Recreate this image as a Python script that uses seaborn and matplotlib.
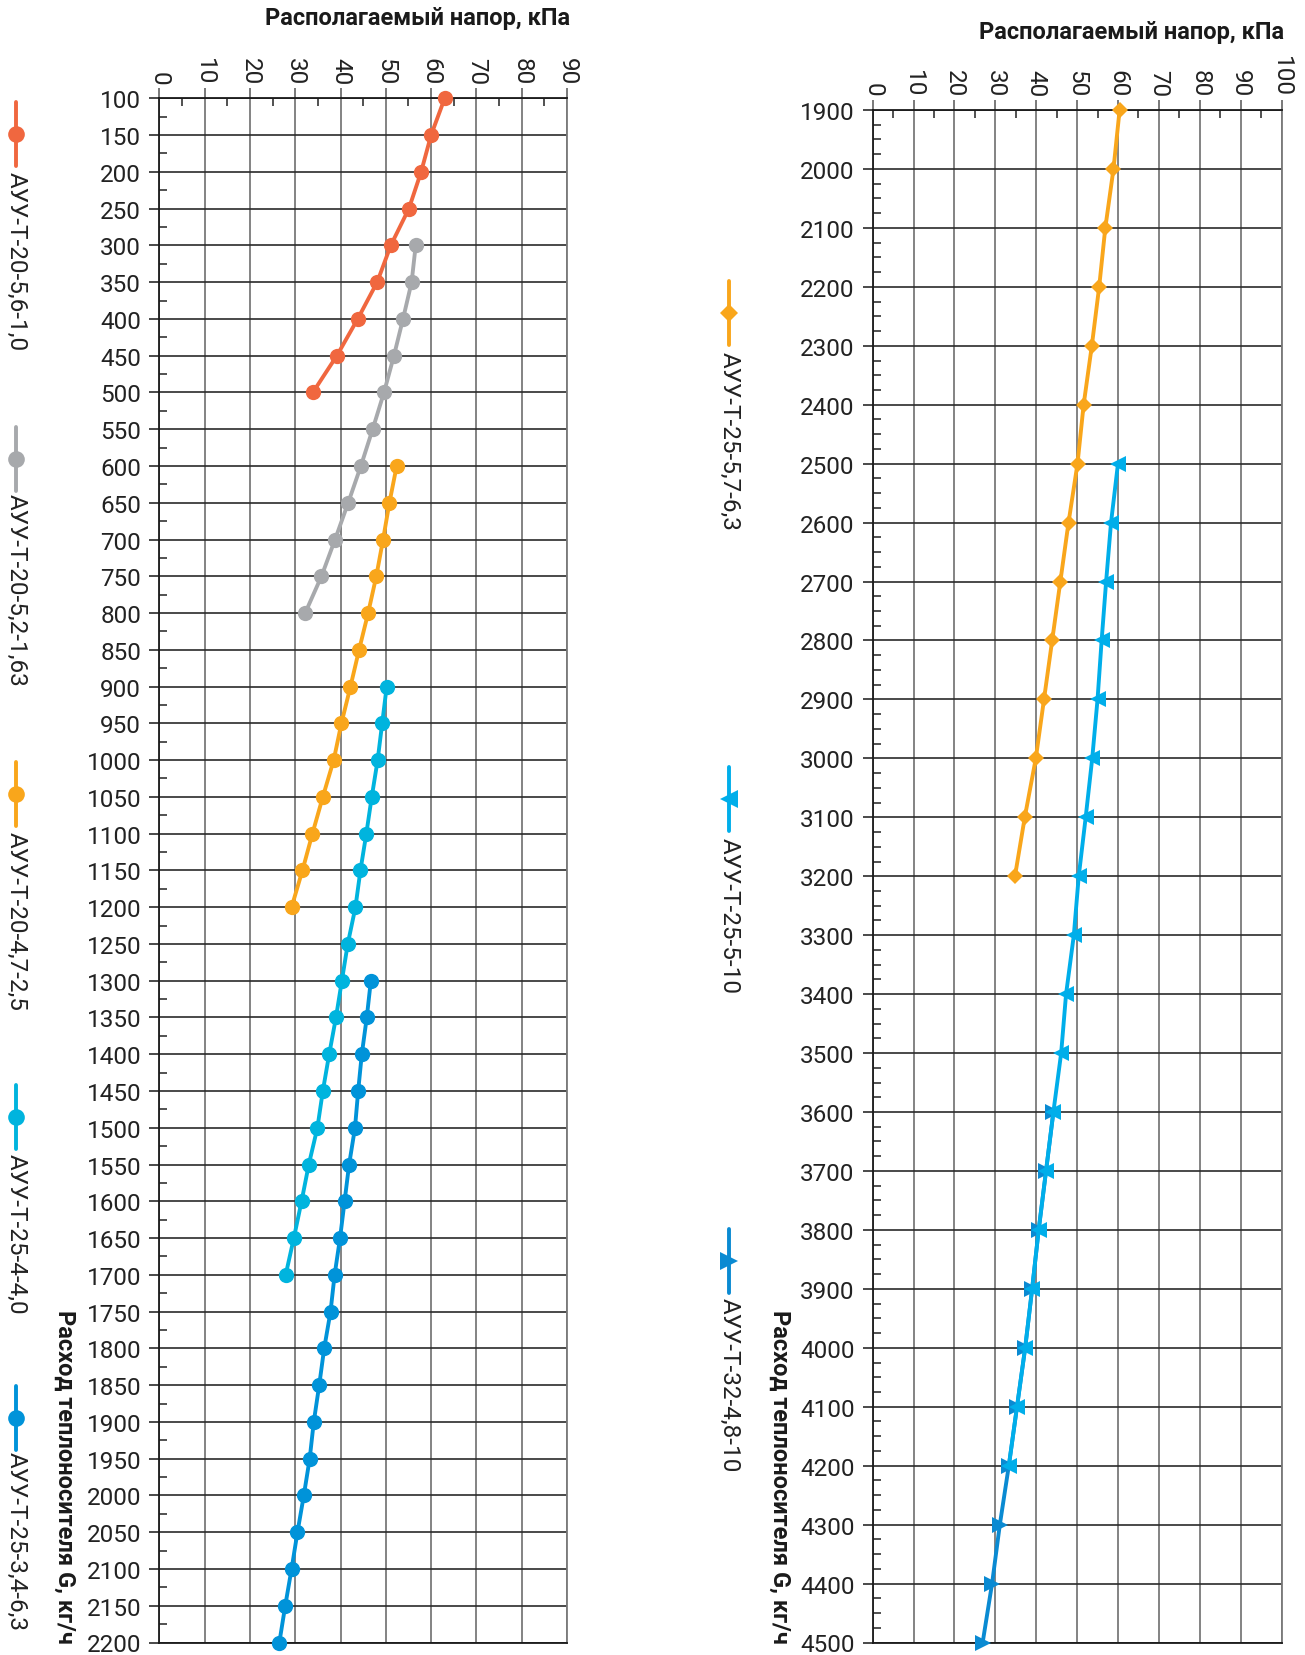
import numpy as np
import pandas as pd
import matplotlib
matplotlib.use("Agg")
import matplotlib.pyplot as plt
from matplotlib.lines import Line2D
from matplotlib.ticker import MultipleLocator
import seaborn as sns

# ---------------- data ----------------
# left chart
flow_a = [100, 150, 200, 250, 300, 350, 400, 450, 500]
head_a = [63.0, 60.0, 57.8, 55.1, 51.1, 48.1, 43.8, 39.2, 33.9]

flow_b = [300, 350, 400, 450, 500, 550, 600, 650, 700, 750, 800]
head_b = [56.6, 55.7, 53.8, 51.8, 49.6, 47.1, 44.5, 41.7, 38.8, 35.8, 32.2]

flow_c = [600, 650, 700, 750, 800, 850, 900, 950, 1000, 1050, 1100, 1150, 1200]
head_c = [52.4, 50.8, 49.4, 47.9, 46.1, 44.1, 42.2, 40.2, 38.5, 36.1, 33.8, 31.6, 29.2]

flow_d = [900, 950, 1000, 1050, 1100, 1150, 1200, 1250, 1300, 1350, 1400, 1450,
          1500, 1550, 1600, 1650, 1700]
head_d = [50.2, 49.2, 48.2, 46.9, 45.7, 44.4, 43.3, 41.6, 40.3, 39.0, 37.5, 36.1,
          34.9, 33.0, 31.4, 29.7, 27.9]

flow_e = [1300, 1350, 1400, 1450, 1500, 1550, 1600, 1650, 1700, 1750, 1800, 1850,
          1900, 1950, 2000, 2050, 2100, 2150, 2200]
head_e = [46.7, 45.8, 44.7, 43.9, 43.2, 41.9, 40.9, 39.9, 38.7, 37.8, 36.4, 35.3,
          34.1, 33.2, 31.9, 30.5, 29.2, 27.8, 26.5]

# right chart
flow_f = [1900, 2000, 2100, 2200, 2300, 2400, 2500, 2600, 2700, 2800, 2900, 3000, 3100, 3200]
head_f = [60.4, 58.9, 56.9, 55.4, 53.6, 51.6, 50.1, 47.9, 45.9, 43.9, 41.9, 39.9, 37.2, 34.8]

flow_g = [2500, 2600, 2700, 2800, 2900, 3000, 3100, 3200, 3300, 3400, 3500, 3600,
          3700, 3800, 3900, 4000, 4100, 4200]
head_g = [60.0, 58.3, 57.1, 56.0, 55.0, 53.7, 52.1, 50.4, 49.2, 47.3, 46.1, 44.2,
          42.4, 40.6, 39.0, 37.3, 35.3, 33.3]

flow_h = [3600, 3700, 3800, 3900, 4000, 4100, 4200, 4300, 4400, 4500]
head_h = [44.2, 42.4, 40.6, 39.0, 37.3, 35.3, 33.3, 31.1, 29.2, 26.9]

labels_left = ["АУУ-Т-20-5,6-1,0", "АУУ-Т-20-5,2-1,63", "АУУ-Т-20-4,7-2,5",
               "АУУ-Т-25-4-4,0", "АУУ-Т-25-3,4-6,3"]
labels_right = ["АУУ-Т-25-5,7-6,3", "АУУ-Т-25-5-10", "АУУ-Т-32-4,8-10"]

x_title = "Располагаемый напор, кПа"
y_title = "Расход теплоносителя G, кг/ч"

# ---------------- style ----------------
sns.set_style("white")
plt.rcParams["font.family"] = ["Roboto", "DejaVu Sans"]
FS = 17.5
FS_T = 17

W, H = 1305, 1656
BOT = 1643.5
fig = plt.figure(figsize=(W / 100, H / 100), dpi=100)


def fx(px):
    return px / W


def fy(py):
    return 1 - py / H


ax1 = fig.add_axes([fx(159.3), fy(BOT), fx(567 - 159.3), (BOT - 99.3) / H])
ax2 = fig.add_axes([fx(872.7), fy(BOT), fx(1281.5 - 872.7), (BOT - 111) / H])

c_red = "#F0673F"
c_gray = "#A7A9AC"
c_orange = "#F9A61B"
c_cyan = "#00B4DE"
c_blue = "#0093D9"
c_lblue = "#00AEEA"
c_dblue = "#0A8AD2"

LW = 2.8

left_series = [
    (flow_a, head_a, c_red, "o", 11),
    (flow_b, head_b, c_gray, "o", 11),
    (flow_c, head_c, c_orange, "o", 11),
    (flow_d, head_d, c_cyan, "o", 11),
    (flow_e, head_e, c_blue, "o", 11),
]
right_series = [
    (flow_h, head_h, c_dblue, ">", 12),
    (flow_g, head_g, c_lblue, "<", 12),
    (flow_f, head_f, c_orange, "D", 8.5),
]

for ax, series in ((ax1, left_series), (ax2, right_series)):
    for fl, hd, col, mk, ms in series:
        df = pd.DataFrame({"head": hd, "flow": fl})
        sns.lineplot(data=df, x="head", y="flow", sort=False, estimator=None,
                     color=col, lw=LW, marker=mk, markersize=ms,
                     markeredgewidth=0, markeredgecolor=col, ax=ax, clip_on=False,
                     zorder=5)


def style_axis(ax, xmax, ymin, ymax, ymaj, ymin_step):
    ax.set_xlim(0, xmax)
    ax.set_ylim(ymax, ymin)
    ax.xaxis.tick_top()
    ax.xaxis.set_label_position("top")
    ax.xaxis.set_major_locator(MultipleLocator(10))
    ax.xaxis.set_minor_locator(MultipleLocator(5))
    ax.yaxis.set_major_locator(MultipleLocator(ymaj))
    ax.yaxis.set_minor_locator(MultipleLocator(ymin_step))
    ax.tick_params(axis="x", which="major", direction="out", length=7, width=1.3,
                   color="#6e6e6e", top=True, bottom=False, labeltop=True,
                   labelbottom=False, labelrotation=270, labelsize=FS, pad=3,
                   labelcolor="#222222")
    ax.tick_params(axis="x", which="minor", direction="in", length=6, width=1.2,
                   color="#333333", top=True, bottom=False)
    ax.tick_params(axis="y", which="major", direction="out", length=7, width=1.2,
                   color="#2a2a2a", left=True, right=False, labelsize=FS, pad=6,
                   labelcolor="#222222")
    ax.tick_params(axis="y", which="minor", direction="in", length=6, width=1.2,
                   color="#333333", left=True, right=False)
    ax.grid(axis="x", which="major", color="#7a7a7a", lw=1.3)
    ax.grid(axis="y", which="major", color="#2a2a2a", lw=1.2)
    ax.set_axisbelow(True)
    for s in ("left", "top", "bottom"):
        ax.spines[s].set_color("#1a1a1a")
        ax.spines[s].set_linewidth(1.3)
    ax.spines["right"].set_color("#7a7a7a")
    ax.spines["right"].set_linewidth(1.3)
    ax.set_xlabel(x_title, fontsize=FS_T, fontweight="bold", color="#1a1a1a")
    ax.set_ylabel(y_title, fontsize=FS_T, fontweight="bold", color="#1a1a1a",
                  rotation=270)


style_axis(ax1, 90, 100, 2200, 50, 25)
style_axis(ax2, 100, 1900, 4500, 100, 25)

# axis titles placement
ax1.xaxis.set_label_coords(1.007, (BOT - 19) / (BOT - 99.3))
ax1.xaxis.label.set_ha("right")
ax1.xaxis.label.set_va("center")
ax2.xaxis.set_label_coords(1.006, (BOT - 32) / (BOT - 111))
ax2.xaxis.label.set_ha("right")
ax2.xaxis.label.set_va("center")

for ax, xpx, x0, x1 in ((ax1, 65, 159.3, 567), (ax2, 780, 872.7, 1281.5)):
    lab = ax.yaxis.label
    ax.yaxis.set_label_coords((xpx - x0) / (x1 - x0), 0.0)
    lab.set_rotation_mode("default")
    lab.set_va("bottom")
    lab.set_ha("center")


# ---------------- vertical legends ----------------
def legend_entry(xpx, mpx, tpx, col, mk, ms, label):
    fig.add_artist(Line2D([fx(xpx), fx(xpx)], [fy(mpx - 32), fy(mpx + 32)],
                          transform=fig.transFigure, color=col, lw=LW))
    fig.add_artist(Line2D([fx(xpx)], [fy(mpx)], transform=fig.transFigure,
                          color=col, marker=mk, markersize=ms, markeredgewidth=0,
                          linestyle="none"))
    fig.text(fx(xpx), fy(tpx), label, rotation=270, ha="center", va="top",
             fontsize=FS, color="#222222")


left_pos = [(135, 172), (460, 494), (795, 832), (1118, 1154), (1419, 1452)]
left_cols = [c_red, c_gray, c_orange, c_cyan, c_blue]
for (m, t), col, lab in zip(left_pos, left_cols, labels_left):
    legend_entry(16, m, t, col, "o", 12, lab)

right_pos = [(314, 352), (800, 838), (1262, 1298)]
right_cols = [c_orange, c_lblue, c_dblue]
right_mk = [("D", 9), ("<", 13), (">", 13)]
for (m, t), col, (mk, ms), lab in zip(right_pos, right_cols, right_mk, labels_right):
    legend_entry(729, m, t, col, mk, ms, lab)

fig.savefig("out.png", dpi=100)
